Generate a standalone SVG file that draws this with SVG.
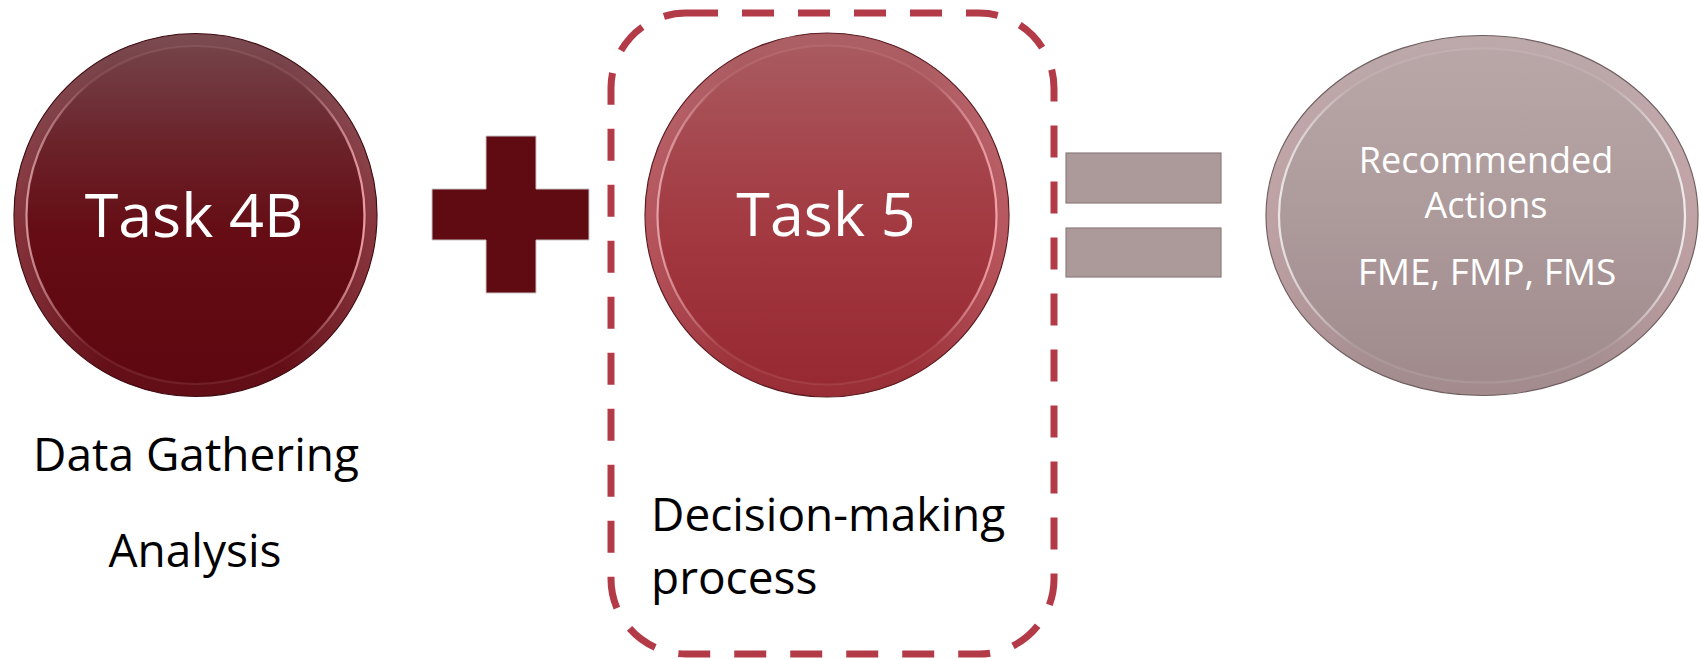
<svg xmlns="http://www.w3.org/2000/svg" width="1701" height="659" viewBox="0 0 1701 659">
  <style>
    .lbl { font-family: "Open Sans", "Liberation Sans", sans-serif; }
    .white { fill: #ffffff; }
    .black { fill: #000000; }
    .task { font-size: 61px; text-anchor: middle; }
    .sub { font-size: 46px; }
    .rec { font-size: 36px; text-anchor: middle; }
    .op { stroke: #c9c2c3; stroke-width: 1; }
    .eq { fill: #ac9a9b; stroke: #8c7c7e; stroke-width: 1.2; }
    .band { fill: none; stroke-width: 12; }
    .rim { fill: none; stroke-width: 2.2; }
  </style>
  <defs>
    <linearGradient id="g1" x1="0" y1="0" x2="0" y2="1">
      <stop offset="0" stop-color="#75474d"/>
      <stop offset="0.3" stop-color="#6b232a"/>
      <stop offset="0.55" stop-color="#650c14"/>
      <stop offset="1" stop-color="#5d0710"/>
    </linearGradient>
    <linearGradient id="g2" x1="0" y1="0" x2="0" y2="1">
      <stop offset="0" stop-color="#a95d62"/>
      <stop offset="0.35" stop-color="#a5444b"/>
      <stop offset="0.6" stop-color="#a2363e"/>
      <stop offset="1" stop-color="#952830"/>
    </linearGradient>
    <linearGradient id="g3" x1="0" y1="0" x2="0" y2="1">
      <stop offset="0" stop-color="#baa8a9"/>
      <stop offset="0.5" stop-color="#ad9a9b"/>
      <stop offset="1" stop-color="#9f898b"/>
    </linearGradient>
    <linearGradient id="bandG" x1="0" y1="0" x2="1" y2="0">
      <stop offset="0" stop-color="#ffc0c8" stop-opacity="0.2"/>
      <stop offset="0.25" stop-color="#ffc0c8" stop-opacity="0.04"/>
      <stop offset="0.75" stop-color="#ffc0c8" stop-opacity="0.04"/>
      <stop offset="1" stop-color="#ffc0c8" stop-opacity="0.22"/>
    </linearGradient>
    <linearGradient id="rimG" x1="0" y1="0" x2="1" y2="0">
      <stop offset="0" stop-color="#ffd0d6" stop-opacity="0.65"/>
      <stop offset="0.18" stop-color="#ffd0d6" stop-opacity="0.1"/>
      <stop offset="0.82" stop-color="#ffd0d6" stop-opacity="0.1"/>
      <stop offset="1" stop-color="#ffb0b8" stop-opacity="0.85"/>
    </linearGradient>
    <linearGradient id="rimG3" x1="0" y1="0" x2="1" y2="0">
      <stop offset="0" stop-color="#ffffff" stop-opacity="0.75"/>
      <stop offset="0.18" stop-color="#ffffff" stop-opacity="0.1"/>
      <stop offset="0.82" stop-color="#ffffff" stop-opacity="0.1"/>
      <stop offset="1" stop-color="#ffffff" stop-opacity="0.8"/>
    </linearGradient>
  </defs>

  <g id="task4b">
    <circle cx="195.5" cy="215" r="181.5" fill="url(#g1)" stroke="#3e0b10" stroke-width="1.2"/>
    <circle class="band" cx="195.5" cy="215" r="175" stroke="url(#bandG)"/>
    <circle class="rim" cx="195.5" cy="215" r="169" stroke="url(#rimG)"/>
    <text class="lbl white task" x="194" y="237">Task 4B</text>
  </g>
  <g id="task4b-notes">
    <text class="lbl black sub" x="196" y="471" text-anchor="middle">Data Gathering</text>
    <text class="lbl black sub" x="195" y="567" text-anchor="middle">Analysis</text>
  </g>

  <g id="plus">
    <path class="op" d="M486 136 H536 V189 H589 V240 H536 V293 H486 V240 H432 V189 H486 Z" fill="#600b12"/>
  </g>

  <g id="decision-box">
    <rect x="611" y="13" width="443" height="641" rx="75" ry="75" fill="none" stroke="#b33a47" stroke-width="7" stroke-dasharray="32 24"/>
  </g>

  <g id="task5">
    <circle cx="827" cy="215" r="182" fill="url(#g2)" stroke="#5a1a20" stroke-width="1.2"/>
    <circle class="band" cx="827" cy="215" r="175.5" stroke="url(#bandG)"/>
    <circle class="rim" cx="827" cy="215" r="169.5" stroke="url(#rimG)"/>
    <text class="lbl white task" x="826" y="236">Task 5</text>
  </g>
  <g id="task5-notes">
    <text class="lbl black sub" x="651" y="531">Decision-making</text>
    <text class="lbl black sub" x="651" y="594">process</text>
  </g>

  <g id="equals">
    <rect class="eq" x="1066" y="153" width="155" height="50"/>
    <rect class="eq" x="1066" y="228" width="155" height="49"/>
  </g>

  <g id="recommended">
    <ellipse cx="1482" cy="215.5" rx="216" ry="180" fill="url(#g3)" stroke="#6f5f61" stroke-width="1.2"/>
    <ellipse class="band" cx="1482" cy="215.5" rx="209.5" ry="173.5" stroke="url(#bandG)"/>
    <ellipse class="rim" cx="1482" cy="215.5" rx="203" ry="167" stroke="url(#rimG3)"/>
    <text class="lbl white rec" x="1486" y="173">Recommended</text>
    <text class="lbl white rec" x="1486" y="218">Actions</text>
    <text class="lbl white rec" x="1487" y="285" style="font-size:37px">FME, FMP, FMS</text>
  </g>
</svg>
